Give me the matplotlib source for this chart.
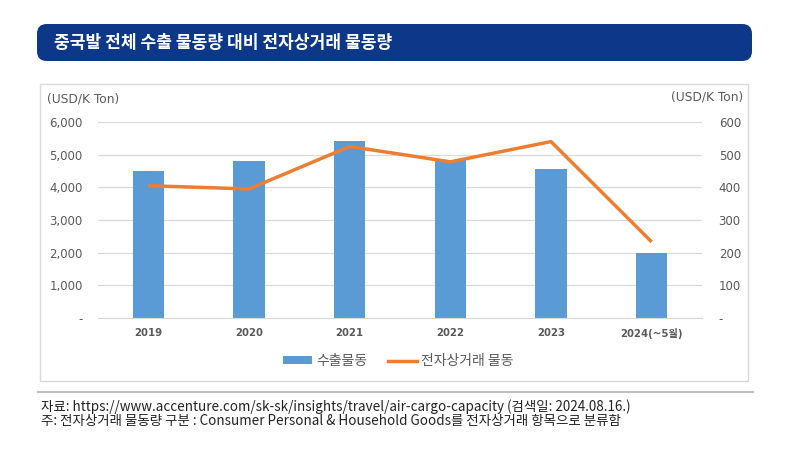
import matplotlib
matplotlib.use("Agg")
import matplotlib.pyplot as plt
from matplotlib.patches import FancyBboxPatch, Rectangle
from matplotlib.lines import Line2D
from matplotlib.ticker import FuncFormatter, FixedLocator

plt.rcParams['font.family'] = ['DejaVu Sans', 'Noto Sans CJK KR']

categories = ['2019', '2020', '2021', '2022', '2023', '2024(~5월)']
export_volume = [4500, 4800, 5420, 4850, 4570, 1990]
ecommerce_volume = [405, 395, 525, 478, 540, 233]
left_ticks = [0, 1000, 2000, 3000, 4000, 5000, 6000]
right_ticks = [0, 100, 200, 300, 400, 500, 600]

title = '중국발 전체 수출 물동량 대비 전자상거래 물동량'
bar_label = '수출물동'
line_label = '전자상거래 물동'
unit_label = '(USD/K Ton)'
source1 = '자료: https://www.accenture.com/sk-sk/insights/travel/air-cargo-capacity (검색일: 2024.08.16.)'
source2 = '주: 전자상거래 물동량 구분 : Consumer Personal & Household Goods를 전자상거래 항목으로 분류함'

W, H = 811, 473
fig = plt.figure(figsize=(W / 100, H / 100), dpi=100)
fig.patch.set_facecolor('white')

def fx(px):
    return px / W

def fy(py):
    return 1 - py / H

# Title banner
banner = FancyBboxPatch((fx(37), fy(61)), fx(752) - fx(37), fy(24) - fy(61),
                        boxstyle="round,pad=0,rounding_size=0.012",
                        transform=fig.transFigure, facecolor='#0d388a',
                        edgecolor='none', mutation_aspect=W / H, zorder=-2)
fig.patches.append(banner)
fig.text(fx(54), fy(43), title, color='white', fontsize=12.3, fontweight='bold',
         family=['Noto Sans CJK KR'], va='center', ha='left')

# Chart box
box = Rectangle((fx(40), fy(381)), fx(748) - fx(40), fy(84) - fy(381),
                transform=fig.transFigure, facecolor='white', edgecolor='#d9d9d9',
                linewidth=1, zorder=-2)
fig.patches.append(box)

ax = fig.add_axes([fx(98), fy(318), fx(702) - fx(98), fy(122) - fy(318)])
ax.set_facecolor('none')
x = list(range(len(categories)))
ax.bar(x, export_volume, width=0.31, color='#5b9bd5', zorder=2)
ax.set_xlim(-0.5, len(categories) - 0.5)
ax.set_ylim(0, 6000)
ax.yaxis.set_major_locator(FixedLocator(left_ticks))
fmt = FuncFormatter(lambda v, p: '-' if v == 0 else f'{v:,.0f}')
ax.yaxis.set_major_formatter(fmt)
ax.grid(axis='y', color='#d9d9d9', linewidth=0.9, zorder=0)
ax.set_axisbelow(True)
for s in ax.spines.values():
    s.set_visible(False)
ax.spines['bottom'].set_visible(True)
ax.spines['bottom'].set_color('#d9d9d9')
ax.set_xticks(x)
ax.set_xticklabels(categories)
ax.tick_params(axis='x', length=0, pad=7, labelsize=7.3, labelcolor='#595959')
ax.tick_params(axis='y', length=0, pad=11, labelsize=8.5, labelcolor='#595959')
for lbl in ax.get_xticklabels():
    lbl.set_fontweight('bold')

ax2 = ax.twinx()
ax2.plot(x, ecommerce_volume, color='#ed7d31', linewidth=2.5, zorder=3,
         solid_capstyle='butt')
ax2.set_ylim(0, 600)
ax2.yaxis.set_major_locator(FixedLocator(right_ticks))
ax2.yaxis.set_major_formatter(fmt)
for s in ax2.spines.values():
    s.set_visible(False)
ax2.tick_params(axis='y', length=0, pad=12, labelsize=8.5, labelcolor='#595959')

fig.text(fx(47), fy(99), unit_label, fontsize=8.8, color='#595959', va='center', ha='left')
fig.text(fx(743), fy(97), unit_label, fontsize=8.8, color='#595959', va='center', ha='right')

handles = [Rectangle((0, 0), 1, 1, facecolor='#5b9bd5', edgecolor='none'),
           Line2D([0], [0], color='#ed7d31', linewidth=2.5)]
leg = fig.legend(handles, [bar_label, line_label], loc='center',
                 bbox_to_anchor=(fx(398), fy(361)), ncol=2, frameon=False,
                 prop={'family': ['Noto Sans CJK KR'], 'size': 10},
                 handlelength=2.1, handleheight=0.5, handletextpad=0.3,
                 columnspacing=1.5)
for t in leg.get_texts():
    t.set_color('#595959')

# Footer
fig.add_artist(Line2D([fx(38), fx(753)], [fy(392), fy(392)], transform=fig.transFigure,
                      color='#bfbfbf', linewidth=1.5))
fig.text(fx(41), fy(407), source1, fontsize=9.7, color='#222222', va='center', ha='left',
         family=['Noto Sans CJK KR'])
fig.text(fx(41), fy(421), source2, fontsize=9.7, color='#222222', va='center', ha='left',
         family=['Noto Sans CJK KR'])

fig.savefig('out.png', dpi=100, facecolor='white')
